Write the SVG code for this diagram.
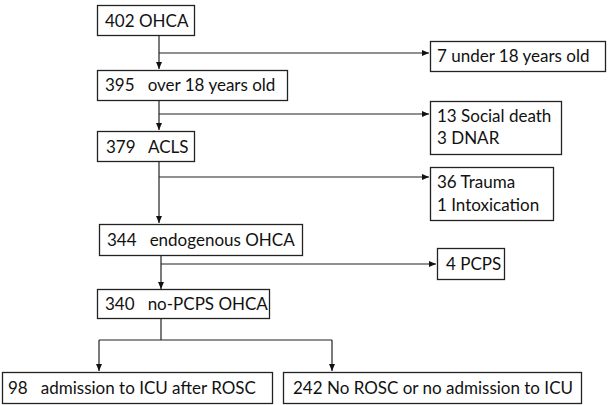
<svg xmlns="http://www.w3.org/2000/svg" width="608" height="405" viewBox="0 0 608 405">
<defs>
<style>
.box{fill:#fff;stroke:#222;stroke-width:1.3}
.t{font-family:Lato,"Open Sans","Liberation Sans",sans-serif;font-size:17px;fill:#111;white-space:pre}
.c{fill:none;stroke:#222;stroke-width:1.2}
</style>
<marker id="ah" markerWidth="8" markerHeight="8" refX="7" refY="4" orient="auto" markerUnits="userSpaceOnUse">
<path d="M0,1 L7,4 L0,7 Z" fill="#111"/>
</marker>
</defs>
<g id="connectors">
<path class="c" d="M159,36 V69" marker-end="url(#ah)"/>
<path class="c" d="M159,53 H429" marker-end="url(#ah)"/>
<path class="c" d="M159,101 V130" marker-end="url(#ah)"/>
<path class="c" d="M159,114 H429" marker-end="url(#ah)"/>
<path class="c" d="M159,162 V223" marker-end="url(#ah)"/>
<path class="c" d="M159,177 H429" marker-end="url(#ah)"/>
<path class="c" d="M161,256 V289" marker-end="url(#ah)"/>
<path class="c" d="M161,264 H436" marker-end="url(#ah)"/>
<path class="c" d="M161,319 V340"/>
<path class="c" d="M99,340 H332"/>
<path class="c" d="M99,340 V371" marker-end="url(#ah)"/>
<path class="c" d="M332,340 V371" marker-end="url(#ah)"/>
</g>
<g id="n402">
<rect class="box" x="97.5" y="5.5" width="97" height="30"/>
<text class="t" x="105" y="27">402 OHCA</text>
</g>
<g id="n7">
<rect class="box" x="430.5" y="41.5" width="175" height="30"/>
<text class="t" x="437" y="62">7 under 18 years old</text>
</g>
<g id="n395">
<rect class="box" x="97.5" y="70.5" width="190" height="30"/>
<text class="t" x="105" y="91" xml:space="preserve">395   over 18 years old</text>
</g>
<g id="n13">
<rect class="box" x="430.5" y="101.5" width="131" height="53"/>
<text class="t" x="437" y="122">13 Social death</text>
<text class="t" x="437" y="144">3 DNAR</text>
</g>
<g id="n379">
<rect class="box" x="97.5" y="131.5" width="97" height="30"/>
<text class="t" x="106" y="153" xml:space="preserve">379   ACLS</text>
</g>
<g id="n36">
<rect class="box" x="430.5" y="167.5" width="123" height="53"/>
<text class="t" x="437" y="188">36 Trauma</text>
<text class="t" x="437" y="211">1 Intoxication</text>
</g>
<g id="n344">
<rect class="box" x="99.5" y="224.5" width="203" height="31"/>
<text class="t" x="107" y="246" xml:space="preserve">344   endogenous OHCA</text>
</g>
<g id="n4">
<rect class="box" x="437.5" y="248.5" width="67" height="31"/>
<text class="t" x="446" y="270">4 PCPS</text>
</g>
<g id="n340">
<rect class="box" x="97.5" y="289.5" width="172" height="29"/>
<text class="t" x="105" y="310" xml:space="preserve">340   no-PCPS OHCA</text>
</g>
<g id="n98">
<rect class="box" x="2.5" y="372.5" width="270" height="31"/>
<text class="t" x="8" y="394" xml:space="preserve">98   admission to ICU after ROSC</text>
</g>
<g id="n242">
<rect class="box" x="283.5" y="372.5" width="298" height="31"/>
<text class="t" x="293" y="394">242 No ROSC or no admission to ICU</text>
</g>
</svg>
